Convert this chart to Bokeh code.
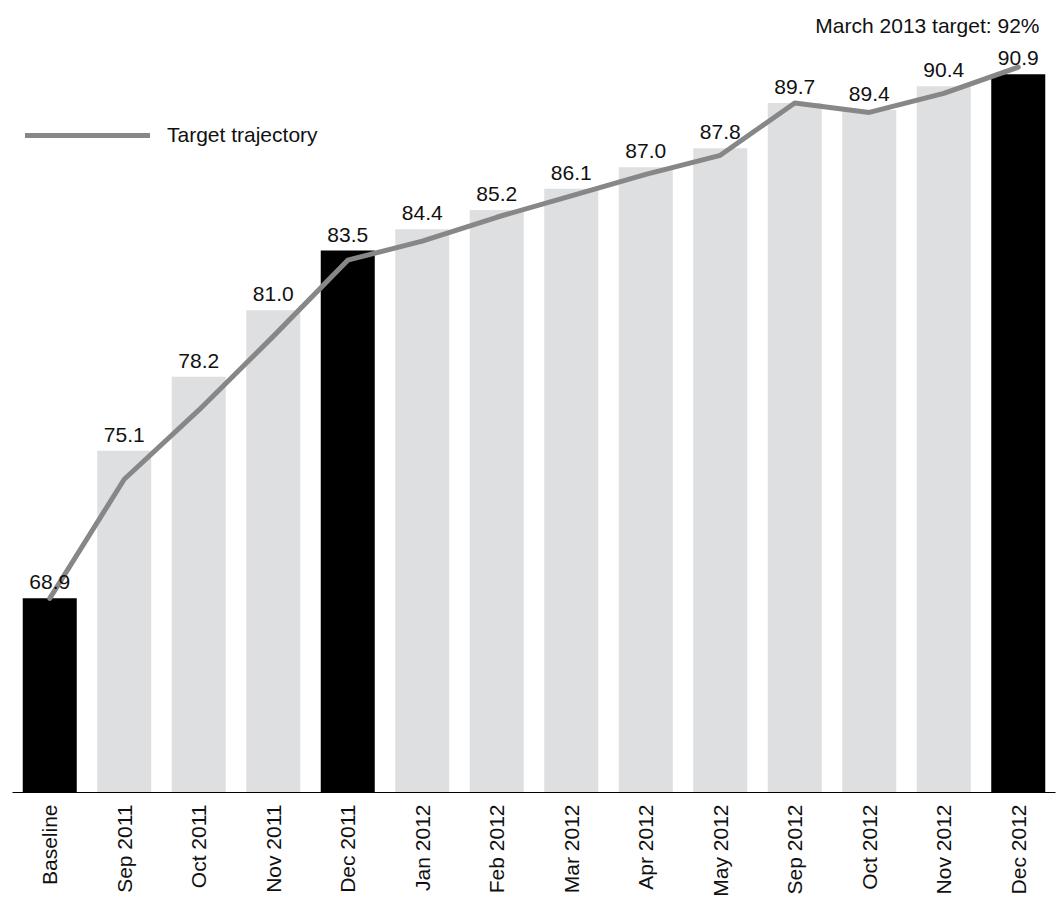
import math
from bokeh.plotting import figure
from bokeh.models import ColumnDataSource, FactorRange, Range1d, Legend, LegendItem, Label, LabelSet
from bokeh.core.properties import value
from bokeh.embed import file_html
from bokeh.resources import INLINE

# Monthly results against the target trajectory
categories = ["Baseline", "Sep 2011", "Oct 2011", "Nov 2011", "Dec 2011",
              "Jan 2012", "Feb 2012", "Mar 2012", "Apr 2012", "May 2012",
              "Sep 2012", "Oct 2012", "Nov 2012", "Dec 2012"]
actual = [68.9, 75.1, 78.2, 81.0, 83.5, 84.4, 85.2, 86.1, 87.0, 87.8,
          89.7, 89.4, 90.4, 90.9]
target = [68.9, 73.9, 76.8, 79.9, 83.1, 83.9, 84.9, 85.8, 86.7, 87.5,
          89.7, 89.3, 90.1, 91.2]
highlighted = ["Baseline", "Dec 2011", "Dec 2012"]
target_note = "March 2013 target: 92%"

FONT = "Liberation Sans"
FONT_SIZE = "21px"
BAR_GREY = "#dedfe1"
LINE_GREY = "#878787"
TEXT = "#111111"

colors = ["#000000" if c in highlighted else BAR_GREY for c in categories]
labels = ["%.1f" % v for v in actual]

src = ColumnDataSource(dict(cat=categories, actual=actual, target=target,
                            color=colors, label=labels))

p = figure(x_range=FactorRange(*categories), y_range=Range1d(60.75, 94.0),
           width=1062, height=899, output_backend="svg", toolbar_location=None,
           min_border_left=12, min_border_right=7, min_border_top=0,
           min_border_bottom=107)
p.title.visible = False
p.outline_line_color = None
p.xgrid.visible = False
p.ygrid.visible = False
p.yaxis.visible = False
p.background_fill_color = "white"
p.border_fill_color = "white"

p.vbar(x="cat", top="actual", bottom=60.75, width=0.725, source=src,
       fill_color="color", line_color=None)

# value labels sit a little above each bar
p.add_layout(LabelSet(x="cat", y="actual", text="label", source=src,
                      text_font=value(FONT), text_font_size=value(FONT_SIZE),
                      text_color=TEXT, text_align="center",
                      text_baseline="alphabetic", y_offset=9))

traj = p.line(x="cat", y="target", source=src, line_color=LINE_GREY,
              line_width=5, line_join="round", line_cap="round")

legend = Legend(items=[LegendItem(label="Target trajectory", renderers=[traj])],
                location=(13, 645), orientation="vertical",
                glyph_width=125, glyph_height=24, label_height=24,
                label_standoff=17, padding=0, margin=0, spacing=0,
                border_line_color=None, background_fill_alpha=0,
                label_text_font=FONT, label_text_font_size=FONT_SIZE,
                label_text_color=TEXT)
p.add_layout(legend)

p.add_layout(Label(x=1027, y=767, x_units="screen", y_units="screen",
                   text=target_note, text_font=FONT, text_font_size=FONT_SIZE,
                   text_color=TEXT, text_align="right",
                   text_baseline="alphabetic"))

ax = p.xaxis[0]
ax.axis_line_color = "#000000"
ax.axis_line_width = 1
ax.major_tick_line_color = None
ax.minor_tick_line_color = None
ax.major_tick_out = 0
ax.major_tick_in = 0
ax.major_label_orientation = math.pi / 2
ax.major_label_standoff = 12
ax.major_label_text_font = FONT
ax.major_label_text_font_size = FONT_SIZE
ax.major_label_text_color = TEXT

open("out.html", "w").write(file_html(p, INLINE))
